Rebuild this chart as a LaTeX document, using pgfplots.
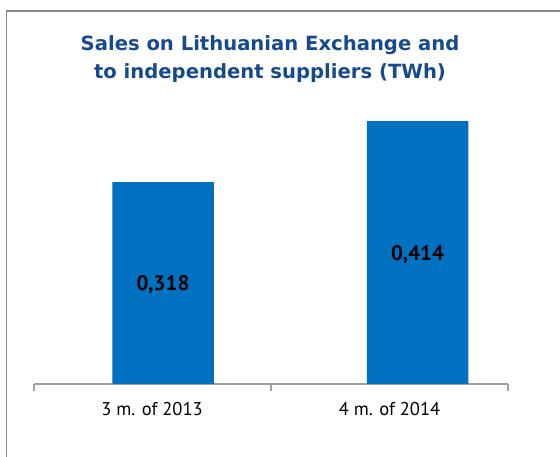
\documentclass[border=0pt]{standalone}
\usepackage{fontspec}
\setmainfont{PT Sans}
\newfontfamily\titlefont{DejaVu Sans Bold}
\usepackage{pgfplots}
\pgfplotsset{compat=1.18}
\definecolor{barblue}{RGB}{0,112,192}
\definecolor{titleblue}{RGB}{23,74,140}
\definecolor{framegray}{RGB}{140,140,140}
\definecolor{axisgray}{RGB}{160,160,160}
\begin{document}
\begin{tikzpicture}[x=1bp,y=1bp]
\useasboundingbox (0,0) rectangle (560,457);
\draw[framegray, line width=1.5bp] (6.5,0) -- (6.5,446) -- (560,446);
\node[text=titleblue, font=\titlefont\fontsize{19.6bp}{28bp}\selectfont, align=center]
  at (270,398) {Sales on Lithuanian Exchange and\\to independent suppliers (TWh)};
\begin{axis}[
  at={(34bp,73bp)}, anchor=south west,
  scale only axis, width=474bp, height=317.5bp,
  xmin=34, xmax=508, ymin=0, ymax=0.5,
  enlargelimits=false, clip=false,
  axis x line=bottom, axis y line=none,
  x axis line style={-, axisgray, line width=1.2bp},
  xtick={152,389.5},
  xticklabels={3 m. of 2013, 4 m. of 2014},
  major tick length=0pt,
  xticklabel style={font=\fontsize{18.5bp}{20bp}\selectfont, yshift=-15bp},
  extra x ticks={34,271,508},
  extra x tick labels={},
  extra x tick style={major tick length=7bp, tick align=outside,
    major tick style={axisgray, line width=1.2bp}},
]
\addplot[ybar, bar shift=0pt, bar width=101.5, fill=barblue, draw=none,
  nodes near coords,
  visualization depends on={0.5*rawy \as \half},
  every node near coord/.append style={anchor=center, text=black,
    font=\bfseries\fontsize{21bp}{23bp}\selectfont,
    shift={(axis direction cs:0,-\half)}, yshift=-2bp},
  /pgf/number format/.cd, fixed, precision=3, zerofill, use comma,
  assume math mode=true]
  coordinates {(163,0.318) (417.5,0.414)};
\end{axis}
\end{tikzpicture}
\end{document}
